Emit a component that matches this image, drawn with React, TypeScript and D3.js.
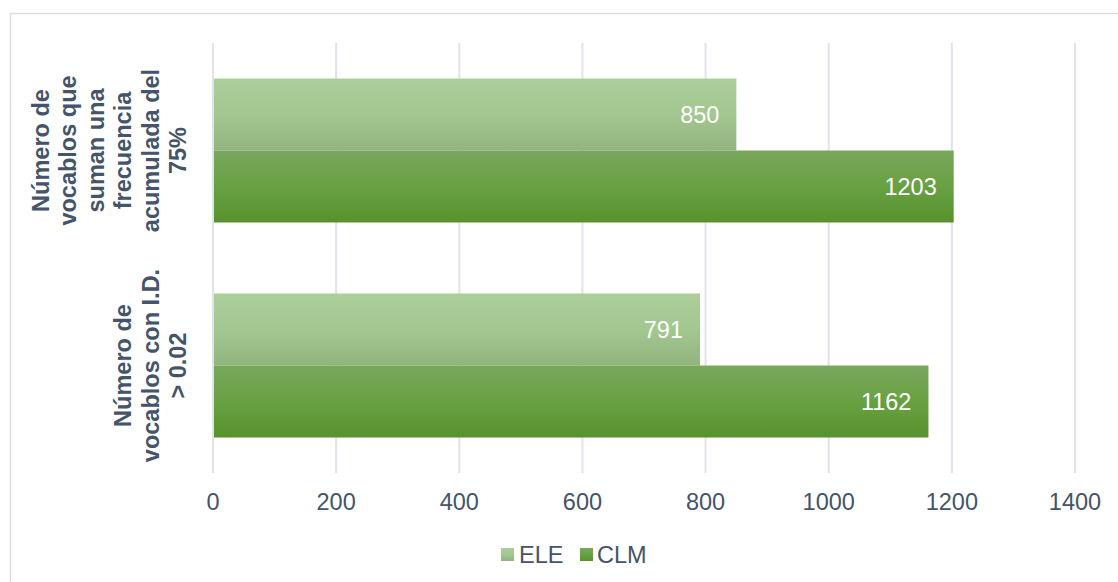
import React from "react";
import * as d3 from "d3";

const categories: string[][] = [
  ["Número de", "vocablos que", "suman una", "frecuencia", "acumulada del", "75%"],
  ["Número de", "vocablos con I.D.", "> 0.02"],
];
const seriesNames = ["ELE", "CLM"];
const eleValues = [850, 791];
const clmValues = [1203, 1162];
const xTicks = [0, 200, 400, 600, 800, 1000, 1200, 1400];

const W = 1118;
const H = 582;
const TEXT = "#44546a";
const FONT = "'Liberation Sans', Arial, sans-serif";
const FS = 23.5;

export default function App() {
  const x = d3.scaleLinear().domain([0, 1400]).range([213, 1075]);
  const y0 = d3
    .scaleBand<number>()
    .domain(categories.map((_, i) => i))
    .range([43, 473])
    .paddingInner(0)
    .paddingOuter(0);
  const y1 = d3
    .scaleBand<string>()
    .domain(seriesNames)
    .range([0, y0.bandwidth()])
    .paddingOuter(0.5 * (215 - 144) / 72)
    .paddingInner(0);
  const series = [eleValues, clmValues];

  return (
    <svg
      width={W}
      height={H}
      style={{ position: "absolute", left: 0, top: 0, background: "#fff" }}
      fontFamily={FONT}
    >
      <defs>
        <linearGradient id="gELE" x1="0" y1="0" x2="0" y2="1">
          <stop offset="0" stopColor="#abce9a" />
          <stop offset="0.5" stopColor="#a3c791" />
          <stop offset="1" stopColor="#92b47e" />
        </linearGradient>
        <linearGradient id="gCLM" x1="0" y1="0" x2="0" y2="1">
          <stop offset="0" stopColor="#79a75d" />
          <stop offset="0.5" stopColor="#68a142" />
          <stop offset="1" stopColor="#58922c" />
        </linearGradient>
      </defs>
      <rect x={10.5} y={13.5} width={1200} height={700} fill="#fff" stroke="#dadfe6" strokeWidth={1.5} />
      {xTicks.map((t) => (
        <g key={t}>
          <line x1={x(t)} x2={x(t)} y1={43} y2={473} stroke="#dfe4eb" strokeWidth={2} />
          <text x={x(t)} y={502} dy="0.35em" textAnchor="middle" fontSize={FS} fill={TEXT}>
            {t}
          </text>
        </g>
      ))}
      {categories.map((lines, ci) => {
        const cy = (y0(ci) ?? 0) + y0.bandwidth() / 2;
        return (
          <g key={ci}>
            {seriesNames.map((s, si) => {
              const v = series[si][ci];
              const by = (y0(ci) ?? 0) + (y1(s) ?? 0);
              const bh = y1.bandwidth();
              return (
                <g key={s}>
                  <rect x={x(0) + 1} y={by} width={x(v) - x(0) - 1} height={bh} fill={`url(#g${s})`} />
                  <text
                    x={x(v) - 17}
                    y={by + bh / 2}
                    dy="0.35em"
                    textAnchor="end"
                    fontSize={FS}
                    fill="#fff"
                  >
                    {v}
                  </text>
                </g>
              );
            })}
            {lines.map((ln, li) => {
              const cx = 178 - (lines.length - 1 - li) * 27.5;
              return (
                <text
                  key={li}
                  transform={`translate(${cx},${cy}) rotate(-90)`}
                  dy="0.35em"
                  textAnchor="middle"
                  fontSize={FS}
                  fontWeight="bold"
                  fill={TEXT}
                >
                  {ln}
                </text>
              );
            })}
          </g>
        );
      })}
      <g>
        <rect x={501} y={548} width={13} height={13} fill="url(#gELE)" />
        <text x={519} y={554.5} dy="0.35em" fontSize={FS} fill={TEXT}>
          {seriesNames[0]}
        </text>
        <rect x={580} y={548} width={13} height={13} fill="url(#gCLM)" />
        <text x={597} y={554.5} dy="0.35em" fontSize={FS} fill={TEXT}>
          {seriesNames[1]}
        </text>
      </g>
    </svg>
  );
}
